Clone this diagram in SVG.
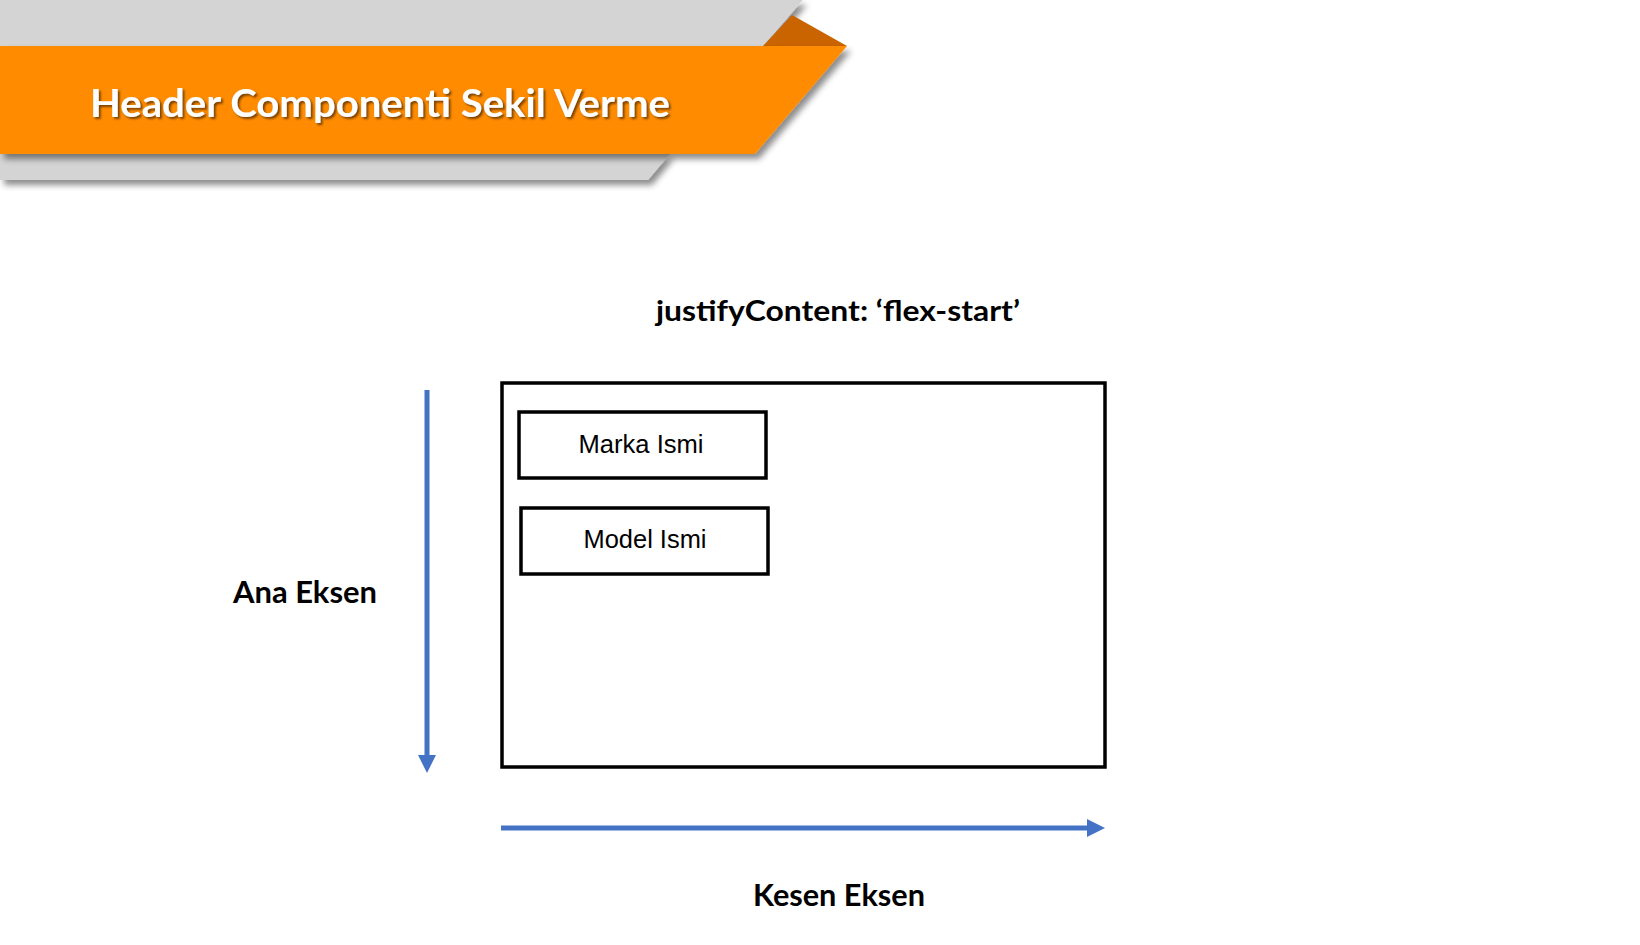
<svg xmlns="http://www.w3.org/2000/svg" width="1640" height="945" viewBox="0 0 1640 945">
<defs>
<filter id="sh" x="-5%" y="-20%" width="115%" height="160%">
<feDropShadow dx="4" dy="5" stdDeviation="3" flood-color="#000" flood-opacity="0.45"/>
</filter>
<filter id="tsh" x="-5%" y="-20%" width="110%" height="150%">
<feDropShadow dx="2" dy="2" stdDeviation="1.2" flood-color="#5a3000" flood-opacity="0.8"/>
</filter>
<marker id="ah" markerUnits="userSpaceOnUse" markerWidth="18" markerHeight="18" refX="0" refY="9" orient="auto">
<path d="M0,0 L18,9 L0,18 z" fill="#4472C4"/>
</marker>
</defs>
<style>
.box{fill:#fff;stroke:#000;stroke-width:3.5}
.lbl{font-family:"Liberation Sans",Arial,sans-serif;font-size:25px;fill:#000;text-anchor:middle}
.bold{font-family:Lato,"Open Sans",sans-serif;font-weight:bold;fill:#000}
.axis{stroke:#4472C4;stroke-width:5;fill:none}
</style>
<rect width="1640" height="945" fill="#fff"/>
<g id="header">
<polygon points="0,0 803,0 763,46 0,46" fill="#d4d4d4" filter="url(#sh)"/>
<polygon points="0,154 670,154 648,180 0,180" fill="#d4d4d4" filter="url(#sh)"/>
<polygon points="763,46 792,15 847,46" fill="#c96400"/>
<polygon points="0,46 847,46 755,154 0,154" fill="#ff8c00" filter="url(#sh)"/>
<text x="90" y="117" font-family="Lato,'Open Sans',sans-serif" font-weight="bold" font-size="39" fill="#fff" textLength="580" lengthAdjust="spacingAndGlyphs" filter="url(#tsh)">Header Componenti Sekil Verme</text>
</g>
<g id="title">
<text class="bold" x="656" y="321" font-size="29" textLength="364" lengthAdjust="spacingAndGlyphs">justifyContent: ‘flex-start’</text>
</g>
<g id="container">
<rect class="box" x="502" y="383" width="603" height="384" stroke-width="3"/>
</g>
<g id="marka">
<rect class="box" x="519" y="412" width="247" height="66"/>
<text class="lbl" x="641" y="453" textLength="125" lengthAdjust="spacingAndGlyphs">Marka Ismi</text>
</g>
<g id="model">
<rect class="box" x="521" y="508" width="247" height="66"/>
<text class="lbl" x="645" y="548" textLength="123" lengthAdjust="spacingAndGlyphs">Model Ismi</text>
</g>
<g id="connectors">
<line class="axis" x1="427" y1="390" x2="427" y2="755" marker-end="url(#ah)"/>
<line class="axis" x1="501" y1="828" x2="1087" y2="828" marker-end="url(#ah)"/>
</g>
<g id="ana">
<text class="bold" x="233" y="603" font-size="30" textLength="144" lengthAdjust="spacingAndGlyphs">Ana Eksen</text>
</g>
<g id="kesen">
<text class="bold" x="753" y="906" font-size="31" textLength="172" lengthAdjust="spacingAndGlyphs">Kesen Eksen</text>
</g>
</svg>
